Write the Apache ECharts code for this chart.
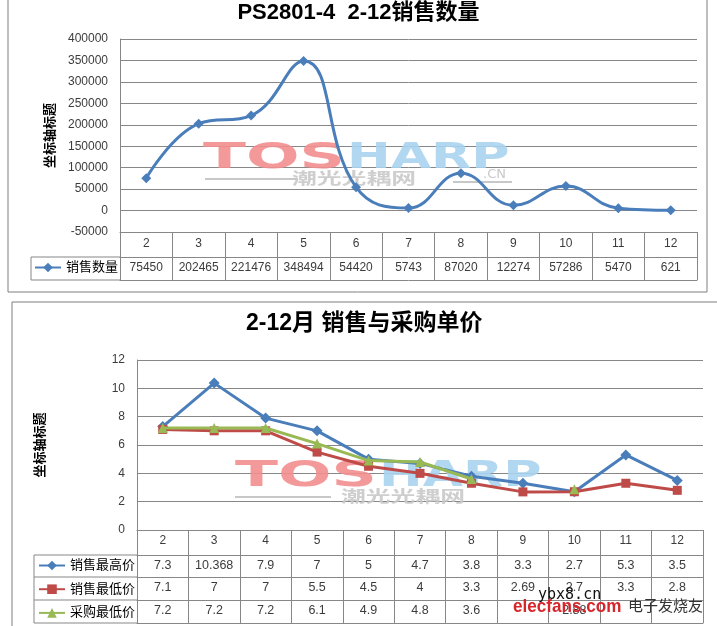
<!DOCTYPE html>
<html><head><meta charset="utf-8">
<script src="https://cdn.jsdelivr.net/npm/echarts@6/dist/echarts.min.js"></script>
<style>html,body{margin:0;padding:0;background:#fff}#c{width:717px;height:626px}</style>
</head><body><div id="c"></div>
<script>
// ---- data ----
const months = ['2','3','4','5','6','7','8','9','10','11','12'];
const qtyName = '销售数量';
const qty = [75450, 202465, 221476, 348494, 54420, 5743, 87020, 12274, 57286, 5470, 621];
const qtyAxis = { min: -50000, max: 400000, interval: 50000 };
const highName = '销售最高价';
const priceHigh = [7.3, 10.368, 7.9, 7, 5, 4.7, 3.8, 3.3, 2.7, 5.3, 3.5];
const lowName = '销售最低价';
const priceLow = [7.1, 7, 7, 5.5, 4.5, 4, 3.3, 2.69, 2.7, 3.3, 2.8];
const buyName = '采购最低价';
const buyLow = [7.2, 7.2, 7.2, 6.1, 4.9, 4.8, 3.6, null, 2.88, null, null];
const priceAxis = { min: 0, max: 12, interval: 2 };
const title1 = 'PS2801-4  2-12销售数量';
const title2 = '2-12月 销售与采购单价';
const yName = '坐标轴标题';

// ---- styles ----
const GC = '#878787';
const TXT = '#3c3c3c';
const FF = '"Liberation Sans","Noto Sans CJK SC",sans-serif';
const BLUE = '#4A7EBB', RED = '#BE4B48', GREEN = '#98B954';

const chart = echarts.init(document.getElementById('c'), null, {renderer: 'canvas'});

function fmt(v) { return v == null ? '' : String(v); }
function rowAxis(grid, arr, offset, margin, fs) {
  return {
    type: 'category', gridIndex: grid, position: 'bottom', offset: offset,
    data: months, boundaryGap: true, silent: true,
    axisLine: {show: true, onZero: false, lineStyle: {color: GC}},
    axisTick: {show: false}, splitLine: {show: false},
    axisLabel: arr ? {show: true, interval: 0, margin: margin, color: TXT, fontSize: fs, fontFamily: FF,
      formatter: (v, i) => fmt(arr[i])} : {show: false}
  };
}
function monthAxis(grid, tickLen, margin, fs) {
  return {
    type: 'category', gridIndex: grid, position: 'bottom', data: months, boundaryGap: true,
    axisLine: {show: true, onZero: false, lineStyle: {color: GC}},
    axisTick: {show: true, length: tickLen, interval: 0, lineStyle: {color: GC}},
    axisLabel: {interval: 0, margin: margin, color: TXT, fontSize: fs, fontFamily: FF},
    splitLine: {show: false}
  };
}
function valAxis(grid, ax, gap) {
  return {
    type: 'value', gridIndex: grid, min: ax.min, max: ax.max, interval: ax.interval,
    axisLine: {show: true, lineStyle: {color: GC}}, axisTick: {show: false},
    axisLabel: {color: TXT, fontSize: 12, fontFamily: FF, margin: 12, formatter: v => String(v)},
    splitLine: {show: true, lineStyle: {color: GC, width: 1}},
    name: yName, nameLocation: 'middle', nameRotate: 90, nameGap: gap,
    nameTextStyle: {fontSize: 13, fontWeight: 'bold', color: '#000', fontFamily: FF}
  };
}
function hline(x1, x2, y) { return {type: 'line', shape: {x1, y1: y, x2, y2: y}, style: {stroke: GC, lineWidth: 1}, silent: true, z: 5}; }
function vline(x, y1, y2) { return {type: 'line', shape: {x1: x, y1, x2: x, y2}, style: {stroke: GC, lineWidth: 1}, silent: true, z: 5}; }
function watermark(x, y, cx, cy, lineX1, lineX2, lineY, cn) {
  const els = [
    {type: 'text', x: x, y: y, scaleX: 1.75, z: 1, silent: true,
     style: {text: 'TOS', fill: '#F28E8E', font: 'bold 36px "DejaVu Sans"', textVerticalAlign: 'top', opacity: 0.9}},
    {type: 'text', x: x + 144, y: y, scaleX: 1.45, z: 1, silent: true,
     style: {text: 'HARP', fill: '#A9D3F0', font: 'bold 36px "DejaVu Sans"', textVerticalAlign: 'top', opacity: 0.9}},
    {type: 'text', x: cx, y: cy, scaleX: 1.55, z: 1, silent: true,
     style: {text: '潮光光耦网', fill: '#C9C9C9', font: 'bold 16px "Noto Sans CJK SC"', textVerticalAlign: 'top', opacity: 0.9}},
    {type: 'line', shape: {x1: lineX1, y1: lineY, x2: lineX2, y2: lineY}, z: 1, silent: true, style: {stroke: '#C8C8C8', lineWidth: 2}}
  ];
  if (cn) els.push({type: 'text', x: cn[0], y: cn[1], z: 1, silent: true,
     style: {text: '.CN', fill: '#C9C9C9', font: '13px "DejaVu Sans"', textVerticalAlign: 'top'}});
  return els;
}

const option = {
  backgroundColor: '#fff',
  animation: false,
  title: [
    {text: title1, left: 'center', top: 2, padding: 0,
     textStyle: {fontSize: 22, fontWeight: 'bold', color: '#000', fontFamily: FF}},
    {text: title2, left: 246, top: 312, padding: 0,
     textStyle: {fontSize: 23, fontWeight: 'bold', color: '#000', fontFamily: FF}}
  ],
  legend: [
    {data: [qtyName], left: 34, top: 261, itemWidth: 26, itemHeight: 12, padding: 0,
     textStyle: {fontSize: 13, color: '#000', fontFamily: FF}},
    {data: [highName, lowName, buyName], orient: 'vertical', left: 38, top: 559, itemWidth: 26, itemHeight: 12,
     itemGap: 10.7, padding: 0, textStyle: {fontSize: 13, color: '#000', fontFamily: FF}}
  ],
  grid: [
    {left: 120, right: 20, top: 39, bottom: 394},
    {left: 137, right: 14, top: 360, bottom: 96}
  ],
  xAxis: [
    monthAxis(0, 48, 6, 12),
    rowAxis(0, qty, 25, 5, 12),
    rowAxis(0, null, 48, 0, 12),
    monthAxis(1, 93, 5, 12),
    rowAxis(1, priceHigh, 25, 4, 12.5),
    rowAxis(1, priceLow, 47, 4, 12.5),
    rowAxis(1, buyLow, 70, 4, 12.5),
    rowAxis(1, null, 93, 0, 12)
  ],
  yAxis: [valAxis(0, qtyAxis, 62), valAxis(1, priceAxis, 90)],
  series: [
    {name: qtyName, type: 'line', xAxisIndex: 0, yAxisIndex: 0, data: qty, smooth: 0.45,
     symbol: 'diamond', symbolSize: 10, lineStyle: {color: BLUE, width: 3},
     itemStyle: {color: BLUE}, z: 3},
    {name: highName, type: 'line', xAxisIndex: 3, yAxisIndex: 1, data: priceHigh,
     symbol: 'diamond', symbolSize: 11, lineStyle: {color: BLUE, width: 3}, itemStyle: {color: BLUE}, z: 3},
    {name: lowName, type: 'line', xAxisIndex: 3, yAxisIndex: 1, data: priceLow,
     symbol: 'rect', symbolSize: 9, lineStyle: {color: RED, width: 3}, itemStyle: {color: RED}, z: 4},
    {name: buyName, type: 'line', xAxisIndex: 3, yAxisIndex: 1, data: buyLow, connectNulls: false,
     symbol: 'triangle', symbolSize: 10, lineStyle: {color: GREEN, width: 3}, itemStyle: {color: GREEN}, z: 5}
  ],
  graphic: [
    // chart frames
    {type: 'rect', shape: {x: 8, y: -5, width: 699, height: 297}, style: {fill: 'none', stroke: '#7f7f7f', lineWidth: 1}, silent: true, z: 0},
    {type: 'rect', shape: {x: 12, y: 302, width: 710, height: 340}, style: {fill: 'none', stroke: '#7f7f7f', lineWidth: 1}, silent: true, z: 0},
    // legend cells of the data tables
    hline(31, 120, 257), hline(31, 120, 280), vline(31, 257, 280),
    hline(34, 137, 555), hline(34, 137, 577), hline(34, 137, 600), hline(34, 137, 623), vline(34, 555, 623),
    // site watermarks
    ...watermark(203, 141, 292, 170, 205, 298, 179, [483, 168]),
    ...watermark(235, 459, 341, 488, 235, 331, 497, null),
    {type: 'line', shape: {x1: 453, y1: 182, x2: 512, y2: 182}, z: 1, silent: true, style: {stroke: '#C8C8C8', lineWidth: 2}},
    {type: 'text', x: 538, y: 588, z: 50, silent: true, style: {text: 'ybx8.cn', fill: '#111', font: '15px "DejaVu Sans Mono"'}},
    {type: 'text', x: 513, y: 597, z: 50, silent: true, scaleX: 0.9, style: {text: 'elecfans.com', fill: '#D7262B', font: 'bold 19px "Liberation Sans"'}},
    {type: 'text', x: 628, y: 598, z: 50, silent: true, style: {text: '电子发烧友', fill: '#333', font: '15px "Noto Sans CJK SC"'}}
  ]
};
chart.setOption(option);
</script>
</body></html>
